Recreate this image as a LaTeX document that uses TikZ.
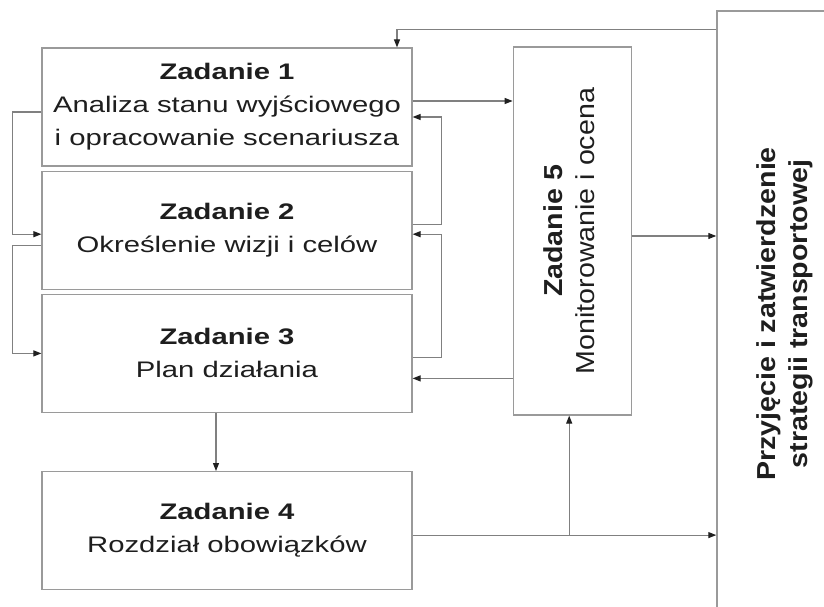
\documentclass[tikz,border=0pt]{standalone}
\usepackage{fontspec}
\setmainfont{Liberation Sans}
\newfontfamily\boxfont[FakeStretch=1.3]{Liberation Sans}
\newfontfamily\sidefont[FakeStretch=1.1]{Liberation Sans}
\usetikzlibrary{positioning}
\usetikzlibrary{arrows.meta}
\definecolor{boxgray}{HTML}{9A9A9A}
\definecolor{linegray}{HTML}{808080}
\definecolor{textblack}{HTML}{1E1E1E}
\definecolor{tipblack}{HTML}{202020}
\tikzset{
	taskbox/.style={draw=boxgray, line width=1.2pt, minimum width=370pt, minimum height=118pt, inner sep=0pt, align=center, text=textblack, font=\boxfont\fontsize{22.5}{33}\selectfont},
	sidebox/.style={draw=boxgray, line width=1.2pt, inner sep=0pt, text=textblack, font=\sidefont\fontsize{26}{32.5}\selectfont},
	link/.style={draw=linegray, line width=1.1pt, -{Triangle[length=8pt,width=6pt,color=tipblack]}}
}

\begin{document}
\begin{tikzpicture}[x=1pt,y=-1pt]
	\useasboundingbox (0,0) rectangle (824,607);
	\clip (0,0) rectangle (824,607);
	
	% Tasks 1-4
	\node [taskbox] at (227,107) (t1) {\textbf{Zadanie 1}\\Analiza stanu wyjściowego\\i opracowanie scenariusza};
	\node [taskbox, below=4pt of t1] (t2) {\textbf{Zadanie 2}\\Określenie wizji i celów};
	\node [taskbox, below=4pt of t2] (t3) {\textbf{Zadanie 3}\\Plan działania};
	\node [taskbox, below=58pt of t3] (t4) {\textbf{Zadanie 4}\\Rozdział obowiązków};
	
	% Task 5 and final approval
	\node [sidebox, minimum width=118pt, minimum height=368pt, right=100pt of t1.north east, anchor=north west, yshift=1pt] (z5) {\rotatebox{90}{\begin{tabular}{@{}c@{}}\bfseries Zadanie 5\\ Monitorowanie i ocena\end{tabular}}};
	\node [sidebox, minimum width=136pt, minimum height=606pt, right=84.5pt of z5.north east, anchor=north west, yshift=36pt] (plan) {\rotatebox{90}{\begin{tabular}{@{}c@{}}\bfseries Przyjęcie i zatwierdzenie\\ \bfseries strategii transportowej\end{tabular}}};
	
	\coordinate (z5foot) at ([xshift=-3pt]z5.south);
	\coordinate (t4out) at ([yshift=-4.5pt]t4.east);
	
	% Connections
	\draw [link] ([yshift=-5pt]t1.west) -- ++(-28.5,0) |- ([yshift=-4pt]t2.west);
	\draw [link] ([yshift=-15pt]t2.west) -- ++(-28.5,0) |- (t3.west);
	\draw [link] ([yshift=6pt]t2.east) -- ++(28.5,0) |- ([yshift=-10pt]t1.east);
	\draw [link] ([yshift=-4.5pt]t3.east) -- ++(28.5,0) |- ([yshift=-4pt]t2.east);
	\draw [link] ([yshift=6pt]t1.east) -- ([yshift=6pt]t1.east -| z5.west);
	\draw [link] ([yshift=-25pt]t3.east -| z5.west) -- ([yshift=-25pt]t3.east);
	\draw [link] ([xshift=-11pt]t3.south) -- ([xshift=-11pt]t4.north);
	\draw [link] (t4out) -- (t4out -| plan.west);
	\draw [link] (t4out -| z5foot) -- (z5foot);
	\draw [link] ([yshift=-5pt]z5.east) -- ([yshift=-5pt]z5.east -| plan.west);
	\draw [link] ([yshift=-19.5pt]plan.north west) -| ([xshift=170pt]t1.north);
	
\end{tikzpicture}
\end{document}
